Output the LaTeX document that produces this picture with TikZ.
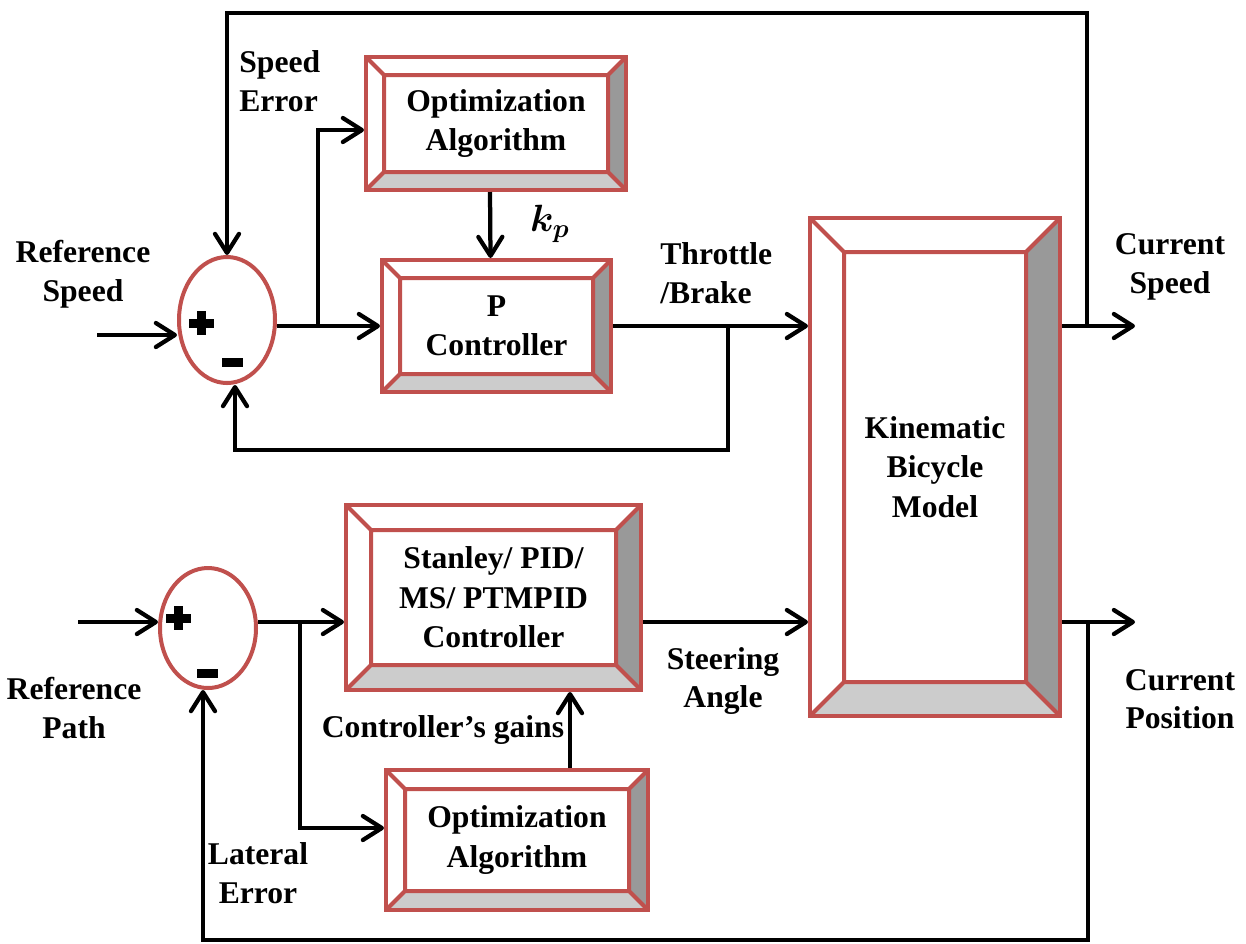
\documentclass[tikz,border=0pt]{standalone}
\usepackage{fontspec}
\setmainfont{Liberation Serif}
\usepackage{amsmath}
\usetikzlibrary{shapes.geometric, arrows.meta}
\definecolor{boxred}{HTML}{C0504D}
\definecolor{bevdark}{HTML}{999999}
\definecolor{bevlight}{HTML}{CCCCCC}
\tikzstyle{sumnode} = [ellipse, draw=boxred, line width=0.8mm, minimum width=19.2mm, minimum height=25.2mm, inner sep=0pt]
\tikzstyle{lbl} = [font=\fontsize{18}{22}\selectfont\bfseries, align=center, inner sep=0pt]
\tikzstyle{arrow} = [line width=0.85mm, -{Straight Barb[length=3.8mm,width=4.8mm,round]}]
\tikzstyle{wire} = [line width=0.85mm]
\tikzstyle{sign} = [line width=1.8mm]
\tikzset{bevelbox/.style={rectangle, draw=boxred, line width=0.8mm, fill=white, inner sep=0pt,
    align=center, font=\fontsize{18}{22.5}\selectfont\bfseries,
    path picture={
      \coordinate (o1) at (path picture bounding box.south west);
      \coordinate (o2) at (path picture bounding box.south east);
      \coordinate (o3) at (path picture bounding box.north east);
      \coordinate (o4) at (path picture bounding box.north west);
      \coordinate (i1) at ([shift={(#1,#1)}]o1);
      \coordinate (i2) at ([shift={(-#1,#1)}]o2);
      \coordinate (i3) at ([shift={(-#1,-#1)}]o3);
      \coordinate (i4) at ([shift={(#1,-#1)}]o4);
      \fill[bevdark] (o2) -- (o3) -- (i3) -- (i2) -- cycle;
      \fill[bevlight] (o1) -- (o2) -- (i2) -- (i1) -- cycle;
      \draw[boxred, line width=0.8mm] (i1) rectangle (i3)
        (o1) -- (i1) (o2) -- (i2) (o3) -- (i3) (o4) -- (i4);
    }}}

\begin{document}
\begin{tikzpicture}[x=0.2mm, y=-0.2mm]
\useasboundingbox (0,0) rectangle (1246,943);
% 定义节点
\node (sum1) [sumnode] at (227,320) {};
\node (optA) [bevelbox=3.6mm, minimum width=52mm, minimum height=26.6mm] at (496,123.5) {Optimization\\Algorithm};
\node (pctrl) [bevelbox=3.6mm, minimum width=45.8mm, minimum height=26.4mm] at (496.5,326) {P\\Controller};
\node (kin) [bevelbox=6.8mm, minimum width=50mm, minimum height=99.6mm] at (935,467) {Kinematic\\Bicycle\\Model};
\node (sum2) [sumnode, minimum height=24mm] at (208,628) {};
\node (stan) [bevelbox=5mm, minimum width=59mm, minimum height=37mm] at (493.5,597.5) {Stanley/ PID/\\MS/ PTMPID\\Controller};
\node (optB) [bevelbox=3.8mm, minimum width=52.4mm, minimum height=28mm] at (517,840) {Optimization\\Algorithm};

% 加减号
\draw [sign] (189,323) -- (214,323) (201.5,311) -- (201.5,335);
\draw [sign] (222,362) -- (243,362);
\draw [sign] (166,618) -- (191,618) (178.5,606) -- (178.5,630);
\draw [sign] (197,673) -- (218,673);

% 标签
\node (spderr) [lbl, align=left, anchor=west] at (239,81) {Speed\\Error};
\node (refspd) [lbl] at (83,274) {Reference\\Speed};
\node (kp) [lbl, scale=1.25] at (550,224) {$\boldsymbol{k_p}$};
\node (thrbrk) [lbl, align=left, anchor=west] at (660,273) {Throttle\\/Brake};
\node (curspd) [lbl] at (1170,267) {Current\\Speed};
\node (steer) [lbl] at (723,681) {Steering\\Angle};
\node (curpos) [lbl] at (1180,699) {Current\\Position};
\node (refpath) [lbl] at (74,708) {Reference\\Path};
\node (gains) [lbl] at (443,730) {Controller’s gains};
\node (laterr) [lbl] at (258,873) {Lateral\\Error};

% 连接点
\coordinate (refspdin) at (97,335);
\coordinate (br1) at (318,326);
\coordinate (br2) at (728,326);
\coordinate (fb1) at (728,450);
\coordinate (spdbr) at (1087,326);
\coordinate (toptop) at (1087,13);
\coordinate (spdout) at (1135,326);
\coordinate (refpathin) at (78,622);
\coordinate (br3) at (300,622);
\coordinate (posbr) at (1088,622);
\coordinate (posout) at (1135,622);
\coordinate (fb2) at (1088,940);

% 添加箭头
\draw [arrow] (refspdin) -- (refspdin -| sum1.west);
\draw [arrow] (sum1.east |- pctrl.west) -- (pctrl.west);
\draw [arrow] (br1) |- ([yshift=-1.3mm]optA.west);
\draw [arrow] ([xshift=-1.2mm]optA.south) -- ([xshift=-1.2mm]pctrl.north);
\draw [arrow] (pctrl.east) -- (kin.west |- pctrl.east);
\draw [arrow] (br2) -- (fb1) -| ([xshift=1.6mm]sum1.south);
\draw [arrow] (kin.east |- spdout) -- (spdout);
\draw [arrow] (spdbr) -- (toptop) -| (sum1.north);

\draw [arrow] (refpathin) -- (refpathin -| sum2.west);
\draw [arrow] (sum2.east |- br3) -- (stan.west |- br3);
\draw [arrow] (br3) |- ([yshift=2.4mm]optB.west);
\draw [arrow] ([xshift=10.6mm]optB.north) -- ([xshift=10.6mm]optB.north |- stan.south);
\draw [arrow] (stan.east |- br3) -- (kin.west |- br3);
\draw [arrow] (kin.east |- posout) -- (posout);
\draw [arrow] (posbr) -- (fb2) -| ([xshift=-1mm]sum2.south);
\end{tikzpicture}
\end{document}
